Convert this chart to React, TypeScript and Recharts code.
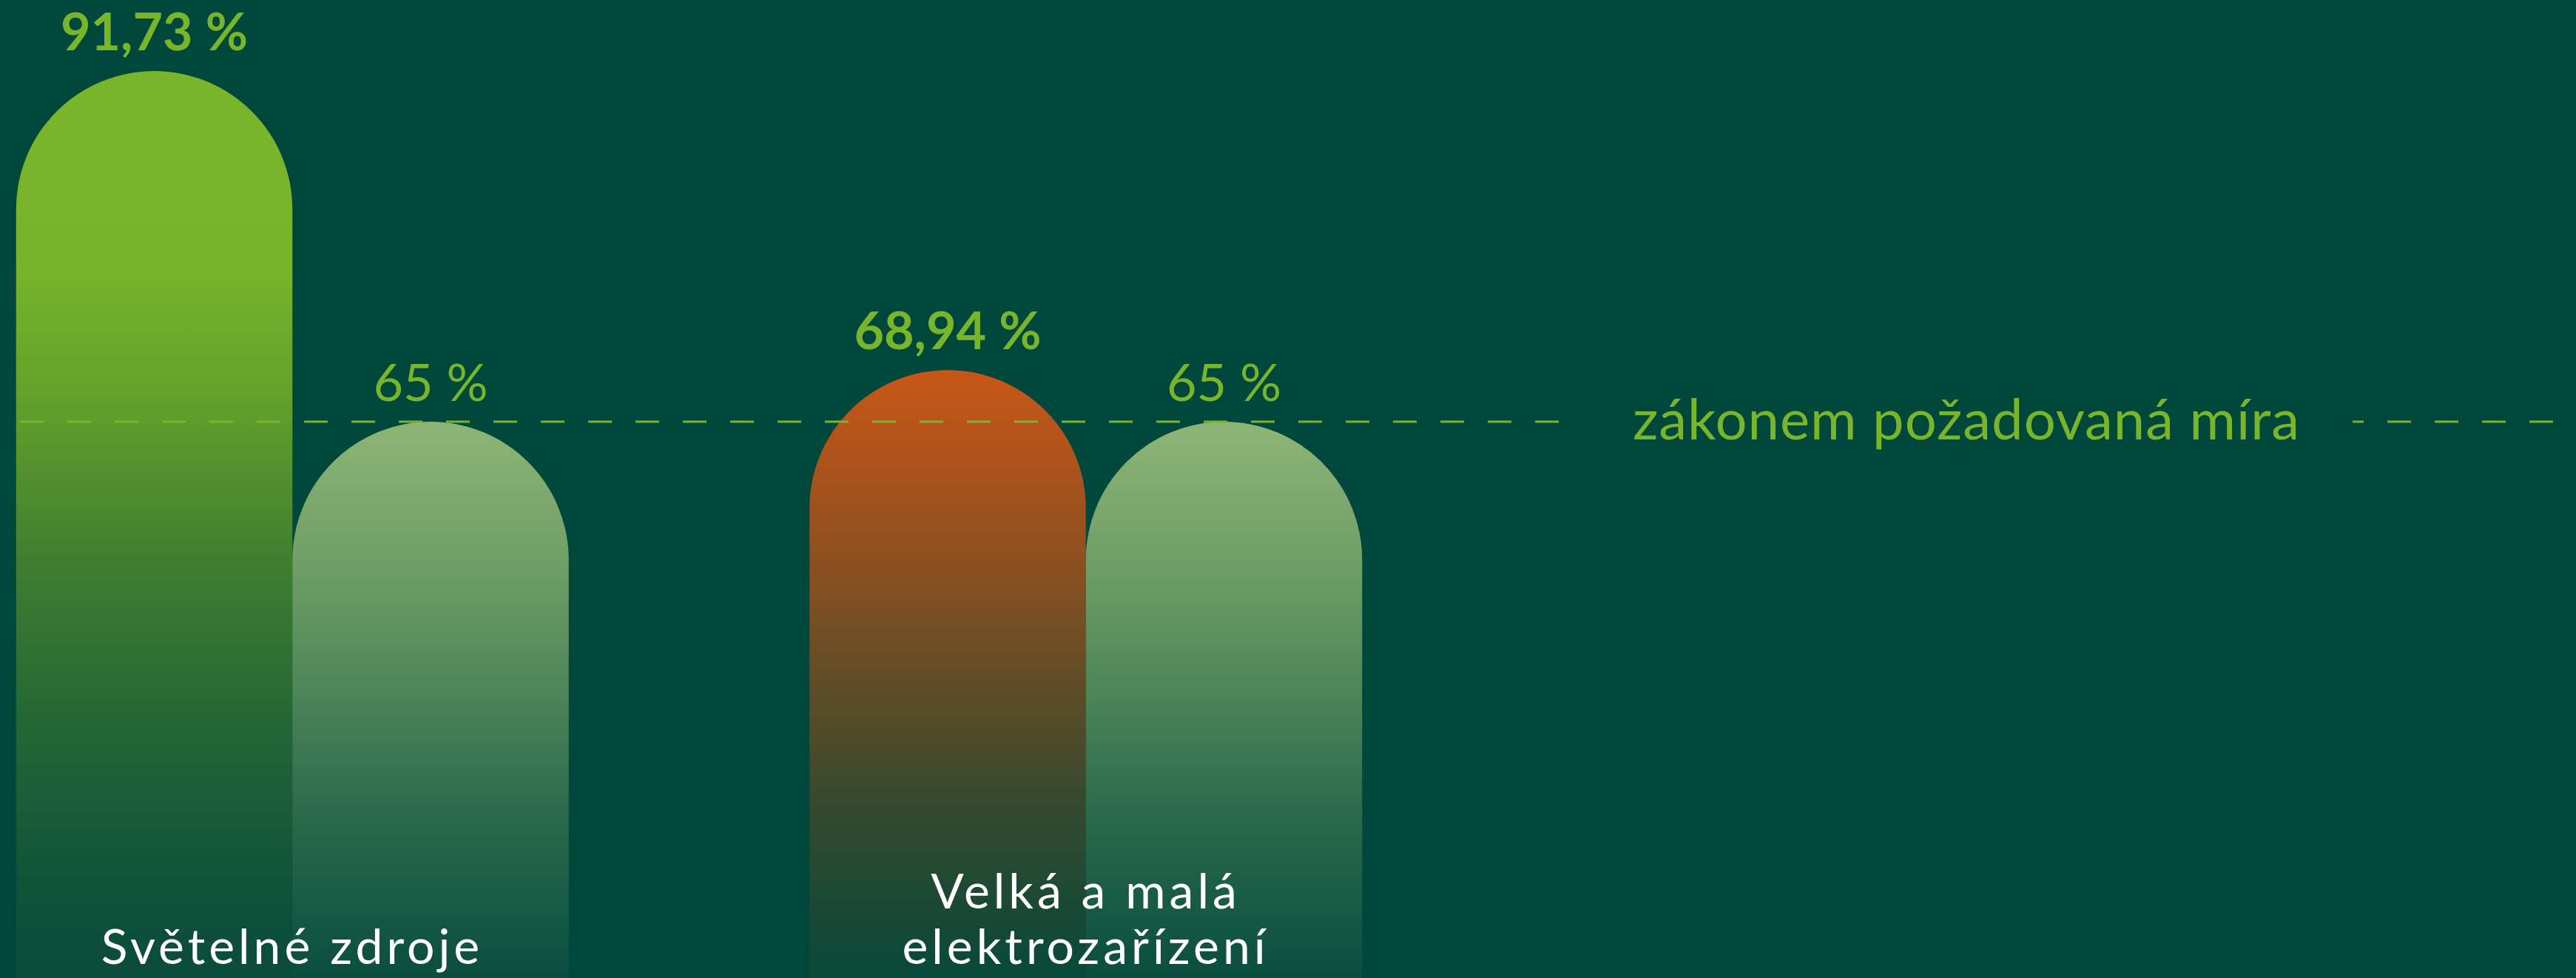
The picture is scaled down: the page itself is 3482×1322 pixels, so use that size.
import { BarChart, Bar, XAxis, YAxis, ReferenceLine, LabelList, Cell } from "recharts";

const categories = ["Světelné zdroje", "Velká a malá elektrozařízení"];
const collected = [91.73, 68.94];
const required = [65, 65];
const requiredLevel = 65;
const requiredLabel = "zákonem požadovaná míra";

const BG = "#00473C";
const GREEN = "#78B52B";
const FONT = "Lato, 'Open Sans', sans-serif";

const data = categories.map((name, i) => ({
  name,
  collected: collected[i],
  required: required[i],
}));

const fmt = (v: any) => `${String(v).replace(".", ",")} %`;

// greedy word wrap by character count
const wrap = (s: string, max: number) => {
  const lines: string[] = [];
  let cur = "";
  for (const w of s.split(" ")) {
    if (cur && (cur + " " + w).length > max) {
      lines.push(cur);
      cur = w;
    } else {
      cur = cur ? cur + " " + w : w;
    }
  }
  if (cur) lines.push(cur);
  return lines;
};

const CategoryTick = (props: any) => {
  const { x, y, payload } = props;
  const lines = wrap(String(payload.value), 16);
  const lh = 75;
  return (
    <text
      x={x}
      y={y - 19 - (lines.length - 1) * lh}
      textAnchor="middle"
      fill="#ffffff"
      style={{ fontSize: 66, fontFamily: FONT, letterSpacing: 5 }}
    >
      {lines.map((l, i) => (
        <tspan key={i} x={x} dy={i === 0 ? 0 : lh}>
          {l}
        </tspan>
      ))}
    </text>
  );
};

const RefLabel = (props: any) => {
  const { viewBox, text } = props;
  const right = viewBox.x + viewBox.width;
  return (
    <g>
      <rect x={right - 1347} y={viewBox.y - 10} width={1072} height={20} fill={BG} />
      <text
        x={right - 797}
        y={viewBox.y + 24}
        textAnchor="middle"
        fill={GREEN}
        style={{ fontSize: 76, fontFamily: FONT, letterSpacing: 1 }}
      >
        {text}
      </text>
    </g>
  );
};

export default function App() {
  return (
    <div style={{ width: 3482, height: 1322, background: BG, fontFamily: FONT, overflow: "hidden" }}>
      <style>{"body{margin:0}"}</style>
      <BarChart
        width={3482}
        height={1322}
        data={data}
        margin={{ top: 0, right: 27, bottom: -1, left: 27 }}
        barGap={0}
      >
        <defs>
          <linearGradient id="gGreen" gradientUnits="userSpaceOnUse" x1="0" y1="0" x2="0" y2="1322">
            <stop offset="0" stopColor="#7AB62A" />
            <stop offset="0.27" stopColor="#78B42A" />
            <stop offset="0.41" stopColor="#62A02C" />
            <stop offset="0.57" stopColor="#407F30" />
            <stop offset="0.73" stopColor="#256835" />
            <stop offset="0.89" stopColor="#12543A" />
            <stop offset="1" stopColor="#0A4B3C" />
          </linearGradient>
          <linearGradient id="gPale" gradientUnits="userSpaceOnUse" x1="0" y1="0" x2="0" y2="1322">
            <stop offset="0.43" stopColor="#8EB575" />
            <stop offset="0.57" stopColor="#719F68" />
            <stop offset="0.7" stopColor="#4F8759" />
            <stop offset="0.83" stopColor="#2B6A4D" />
            <stop offset="1" stopColor="#0B4E3F" />
          </linearGradient>
          <linearGradient id="gOrange" gradientUnits="userSpaceOnUse" x1="0" y1="0" x2="0" y2="1322">
            <stop offset="0.35" stopColor="#D25716" />
            <stop offset="0.57" stopColor="#8E5020" />
            <stop offset="0.7" stopColor="#5F4D27" />
            <stop offset="0.83" stopColor="#33492E" />
            <stop offset="1" stopColor="#08493B" />
          </linearGradient>
        </defs>
        <XAxis
          dataKey="name"
          axisLine={false}
          tickLine={false}
          tickSize={0}
          tickMargin={0}
          height={1}
          interval={0}
          tick={<CategoryTick />}
          padding={{ left: -168.25, right: 1451.25 }}
        />
        <YAxis type="number" domain={[22.6, 97.15]} allowDataOverflow hide />
        <Bar dataKey="collected" barSize={373.5} radius={[187, 187, 0, 0]} isAnimationActive={false}>
          {data.map((d, i) => (
            <Cell key={d.name} fill={i === 0 ? "url(#gGreen)" : "url(#gOrange)"} />
          ))}
          <LabelList
            dataKey="collected"
            position="top"
            offset={28}
            formatter={fmt}
            fill={GREEN}
            style={{ fontSize: 70, fontWeight: 700, fontFamily: FONT }}
          />
        </Bar>
        <Bar dataKey="required" barSize={373.5} radius={[187, 187, 0, 0]} fill="url(#gPale)" isAnimationActive={false}>
          <LabelList
            dataKey="required"
            position="top"
            offset={28}
            formatter={fmt}
            fill={GREEN}
            style={{ fontSize: 70, fontWeight: 400, fontFamily: FONT }}
          />
        </Bar>
        <ReferenceLine
          y={requiredLevel}
          stroke={GREEN}
          strokeWidth={3}
          strokeDasharray="32 32"
          label={<RefLabel text={requiredLabel} />}
        />
      </BarChart>
    </div>
  );
}
